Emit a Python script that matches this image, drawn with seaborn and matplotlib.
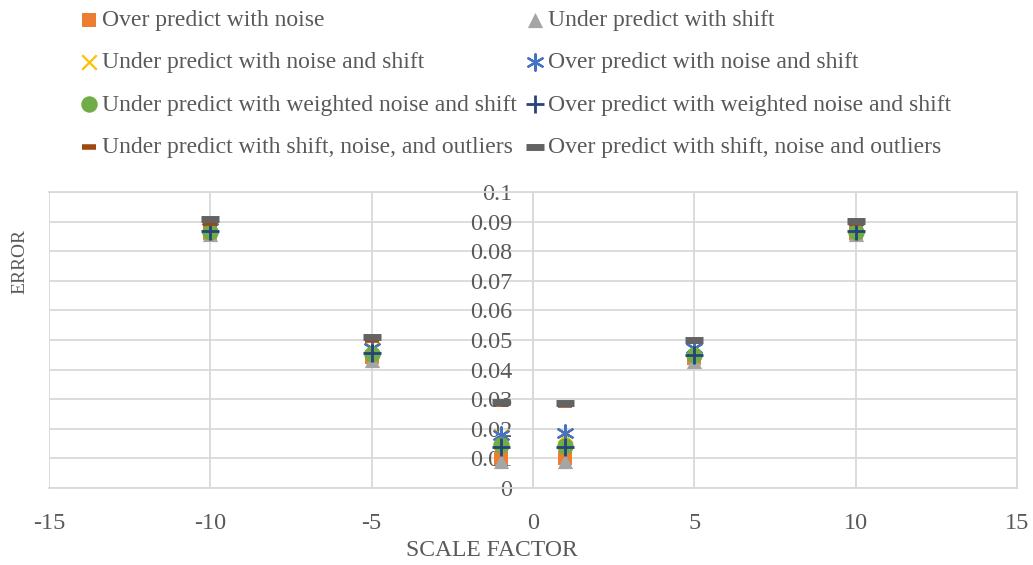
import numpy as np
import pandas as pd
import seaborn as sns
import matplotlib.pyplot as plt
from matplotlib.ticker import MultipleLocator

# Datos
scale = [-10, -5, -1, 1, 5, 10]

over_noise = [0.0862, 0.0442, 0.0100, 0.0100, 0.0440, 0.0862]
under_shift = [0.0858, 0.0432, 0.0090, 0.0090, 0.0430, 0.0858]
under_noise_shift = [0.0880, 0.0470, 0.0175, 0.0180, 0.0470, 0.0880]
over_noise_shift = [0.0880, 0.0472, 0.0178, 0.0186, 0.0474, 0.0880]
under_weighted = [0.0865, 0.0452, 0.0145, 0.0143, 0.0450, 0.0865]
over_weighted = [0.0868, 0.0455, 0.0140, 0.0140, 0.0450, 0.0868]
under_outliers = [0.0895, 0.0500, 0.0285, 0.0280, 0.0495, 0.0895]
over_outliers = [0.0908, 0.0510, 0.0290, 0.0286, 0.0500, 0.0902]

series = [
    ("Over predict with noise", over_noise, "s", "#ED7D31", 110, 0),
    ("Under predict with shift", under_shift, "^", "#A5A5A5", 120, 0),
    ("Under predict with noise and shift", under_noise_shift, "x", "#FFC000", 110, 1.6),
    ("Over predict with noise and shift", over_noise_shift, (6, 2, 0), "#4472C4", 140, 1.6),
    ("Under predict with weighted noise and shift", under_weighted, "o", "#70AD47", 140, 0),
    ("Over predict with weighted noise and shift", over_weighted, "+", "#264478", 150, 2.0),
    ("Under predict with shift, noise, and outliers", under_outliers, "_", "#9E480E", 100, 4.0),
    ("Over predict with shift, noise and outliers", over_outliers, "_", "#636363", 150, 5.0),
]

sns.set_theme(style="white")
plt.rcParams['font.family'] = ['Liberation Serif', 'DejaVu Serif']
plt.rcParams['axes.unicode_minus'] = False
text_color = "#595959"
grid_color = "#D9D9D9"

fig = plt.figure(figsize=(10.33, 5.65), dpi=100)
ax = fig.add_axes([49 / 1033, 77 / 565, 968 / 1033, 296 / 565])

for name, vals, marker, color, size, lw in series:
    sns.scatterplot(x=scale, y=vals, marker=marker, color=color, s=size,
                    linewidth=lw, edgecolor=color if lw == 0 else None,
                    label=name, ax=ax, zorder=3)

ax.set_xlim(-15, 15)
ax.set_ylim(0, 0.1)
ax.xaxis.set_major_locator(MultipleLocator(5))
ax.yaxis.set_major_locator(MultipleLocator(0.01))
ax.yaxis.set_major_formatter(lambda v, p: "0" if abs(v) < 1e-9 else f"{v:.2f}".rstrip("0"))
ax.grid(True, color=grid_color, linewidth=1.3)
ax.set_axisbelow(True)

for side in ["top", "right", "bottom", "left"]:
    ax.spines[side].set_color(grid_color)
    ax.spines[side].set_linewidth(1.3)
ax.spines["left"].set_position(("data", 0))

ax.tick_params(axis="both", length=0, labelsize=17.5, colors=text_color)
ax.tick_params(axis="y", pad=15)
ax.tick_params(axis="x", pad=18)

ax.set_xlabel("SCALE FACTOR", fontsize=17, color=text_color)
ax.xaxis.set_label_coords((492 - 49) / 968, -(551 - 488) / 296)
ax.xaxis.label.set_va("center")
ax.set_ylabel("")
fig.text(20 / 1033, 1 - 261 / 565, "ERROR", rotation=90, fontsize=14,
         color=text_color, ha="center", va="center")

handles, labels = ax.get_legend_handles_labels()
order = [0, 2, 4, 6, 1, 3, 5, 7]
leg = ax.legend([handles[i] for i in order], [labels[i] for i in order],
                ncol=2, loc="upper left", bbox_to_anchor=(68 / 1033, 1.0),
                bbox_transform=fig.transFigure, frameon=False,
                fontsize=17, handletextpad=0.05, columnspacing=0.26,
                labelspacing=0.88, handlelength=1.0, borderaxespad=0.0)
for t in leg.get_texts():
    t.set_color(text_color)

plt.savefig("out.png", dpi=100)
